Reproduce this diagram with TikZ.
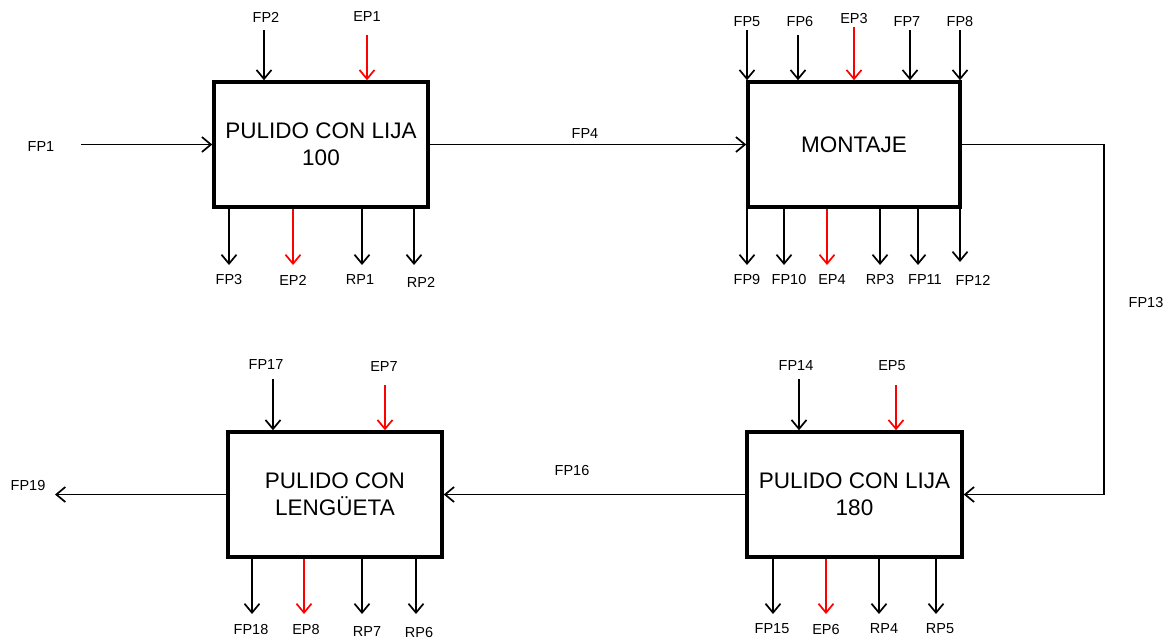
\documentclass[tikz,border=0pt]{standalone}
\usepackage{fontspec}
\setmainfont{Liberation Sans}
\usetikzlibrary{arrows.meta}
\begin{document}
\begin{tikzpicture}[x=1pt,y=-1pt,
  box/.style={draw,line width=3.5pt,minimum width=214pt,minimum height=125pt,inner sep=0pt,align=center,font=\fontsize{22.5}{27}\selectfont},
  lbl/.style={inner sep=0pt,font=\fontsize{14.5}{16}\selectfont},
  arr/.style={line width=1.7pt,-{Straight Barb[length=9pt,width=15pt,line width=1.7pt]}},
  rarr/.style={arr,red,line width=2pt}]
\useasboundingbox (0,0) rectangle (1176,641);
% boxes
\node[box] (b1) at (321,144.5) {PULIDO CON LIJA\\100};
\node[box,minimum width=212pt] (b2) at (854,144.5) {MONTAJE};
\node[box,minimum width=215pt] (b3) at (854.5,494.5) {PULIDO CON LIJA\\180};
\node[box] (b4) at (335,494.5) {PULIDO CON\\LENGÜETA};
% ---------- box 1
\node[lbl] (fp1) at (41,147) {FP1};
\coordinate (fp1s) at (81,144.5);
\draw[arr] (fp1s) -- (fp1s -| b1.west);
\node[lbl] (fp2) at (266,17) {FP2};
\coordinate (fp2s) at (264,30);
\draw[arr] (fp2s) -- (fp2s |- b1.north);
\node[lbl] (ep1) at (367,17) {EP1};
\coordinate (ep1s) at (367,35);
\draw[rarr] (ep1s) -- (ep1s |- b1.north);
\coordinate (fp3e) at (229,265);
\node[lbl] (fp3) at (229,280) {FP3};
\draw[arr] (fp3e |- b1.south) -- (fp3e);
\coordinate (ep2e) at (293,265);
\node[lbl] (ep2) at (293,280) {EP2};
\draw[rarr] (ep2e |- b1.south) -- (ep2e);
\coordinate (rp1e) at (362,265);
\node[lbl] (rp1) at (360,280) {RP1};
\draw[arr] (rp1e |- b1.south) -- (rp1e);
\coordinate (rp2e) at (414,265);
\node[lbl] (rp2) at (421,282) {RP2};
\draw[arr] (rp2e |- b1.south) -- (rp2e);
% FP4
\draw[arr] (b1.east) -- (b2.west);
\node[lbl] (fp4) at (585,134) {FP4};
% ---------- box 2
\coordinate (fp5s) at (747,30);
\node[lbl] (fp5) at (747,22) {FP5};
\draw[arr] (fp5s) -- (fp5s |- b2.north);
\coordinate (fp6s) at (798,35);
\node[lbl] (fp6) at (800,22) {FP6};
\draw[arr] (fp6s) -- (fp6s |- b2.north);
\coordinate (ep3s) at (854,27);
\node[lbl] (ep3) at (854,19) {EP3};
\draw[rarr] (ep3s) -- (ep3s |- b2.north);
\coordinate (fp7s) at (910,30);
\node[lbl] (fp7) at (907,22) {FP7};
\draw[arr] (fp7s) -- (fp7s |- b2.north);
\coordinate (fp8s) at (960,30);
\node[lbl] (fp8) at (960,22) {FP8};
\draw[arr] (fp8s) -- (fp8s |- b2.north);
\coordinate (fp9e) at (747,265);
\node[lbl] (fp9) at (747,280) {FP9};
\draw[arr] (fp9e |- b2.south) -- (fp9e);
\coordinate (fp10e) at (784,265);
\node[lbl] (fp10) at (789,280) {FP10};
\draw[arr] (fp10e |- b2.south) -- (fp10e);
\coordinate (ep4e) at (827,265);
\node[lbl] (ep4) at (832,280) {EP4};
\draw[rarr] (ep4e |- b2.south) -- (ep4e);
\coordinate (rp3e) at (880,265);
\node[lbl] (rp3) at (880,280) {RP3};
\draw[arr] (rp3e |- b2.south) -- (rp3e);
\coordinate (fp11e) at (918,265);
\node[lbl] (fp11) at (925,280) {FP11};
\draw[arr] (fp11e |- b2.south) -- (fp11e);
\coordinate (fp12e) at (960,262);
\node[lbl] (fp12) at (973,280) {FP12};
\draw[arr] (fp12e |- b2.south) -- (fp12e);
% FP13
\coordinate (c13) at (1104,300);
\draw[arr] (b2.east) -| (c13) |- (b3.east);
\node[lbl] (fp13) at (1146,302) {FP13};
% ---------- box 3
\coordinate (fp14s) at (799,379);
\node[lbl] (fp14) at (796,366) {FP14};
\draw[arr] (fp14s) -- (fp14s |- b3.north);
\coordinate (ep5s) at (896,385);
\node[lbl] (ep5) at (892,366) {EP5};
\draw[rarr] (ep5s) -- (ep5s |- b3.north);
\coordinate (fp15e) at (773,614);
\node[lbl] (fp15) at (772,629) {FP15};
\draw[arr] (fp15e |- b3.south) -- (fp15e);
\coordinate (ep6e) at (826,614);
\node[lbl] (ep6) at (826,629) {EP6};
\draw[rarr] (ep6e |- b3.south) -- (ep6e);
\coordinate (rp4e) at (879,614);
\node[lbl] (rp4) at (884,629) {RP4};
\draw[arr] (rp4e |- b3.south) -- (rp4e);
\coordinate (rp5e) at (936,614);
\node[lbl] (rp5) at (940,629) {RP5};
\draw[arr] (rp5e |- b3.south) -- (rp5e);
% FP16
\draw[arr] (b3.west) -- (b4.east);
\node[lbl] (fp16) at (572,470) {FP16};
% ---------- box 4
\coordinate (fp17s) at (273,379);
\node[lbl] (fp17) at (266,365) {FP17};
\draw[arr] (fp17s) -- (fp17s |- b4.north);
\coordinate (ep7s) at (385,385);
\node[lbl] (ep7) at (384,367) {EP7};
\draw[rarr] (ep7s) -- (ep7s |- b4.north);
\coordinate (fp18e) at (252,614);
\node[lbl] (fp18) at (251,629) {FP18};
\draw[arr] (fp18e |- b4.south) -- (fp18e);
\coordinate (ep8e) at (304,614);
\node[lbl] (ep8) at (306,629) {EP8};
\draw[rarr] (ep8e |- b4.south) -- (ep8e);
\coordinate (rp7e) at (362,614);
\node[lbl] (rp7) at (367,632) {RP7};
\draw[arr] (rp7e |- b4.south) -- (rp7e);
\coordinate (rp6e) at (416,614);
\node[lbl] (rp6) at (419,632) {RP6};
\draw[arr] (rp6e |- b4.south) -- (rp6e);
% FP19
\coordinate (fp19e) at (55,494.5);
\draw[arr] (b4.west) -- (fp19e);
\node[lbl] (fp19) at (28,485) {FP19};
\end{tikzpicture}
\end{document}
